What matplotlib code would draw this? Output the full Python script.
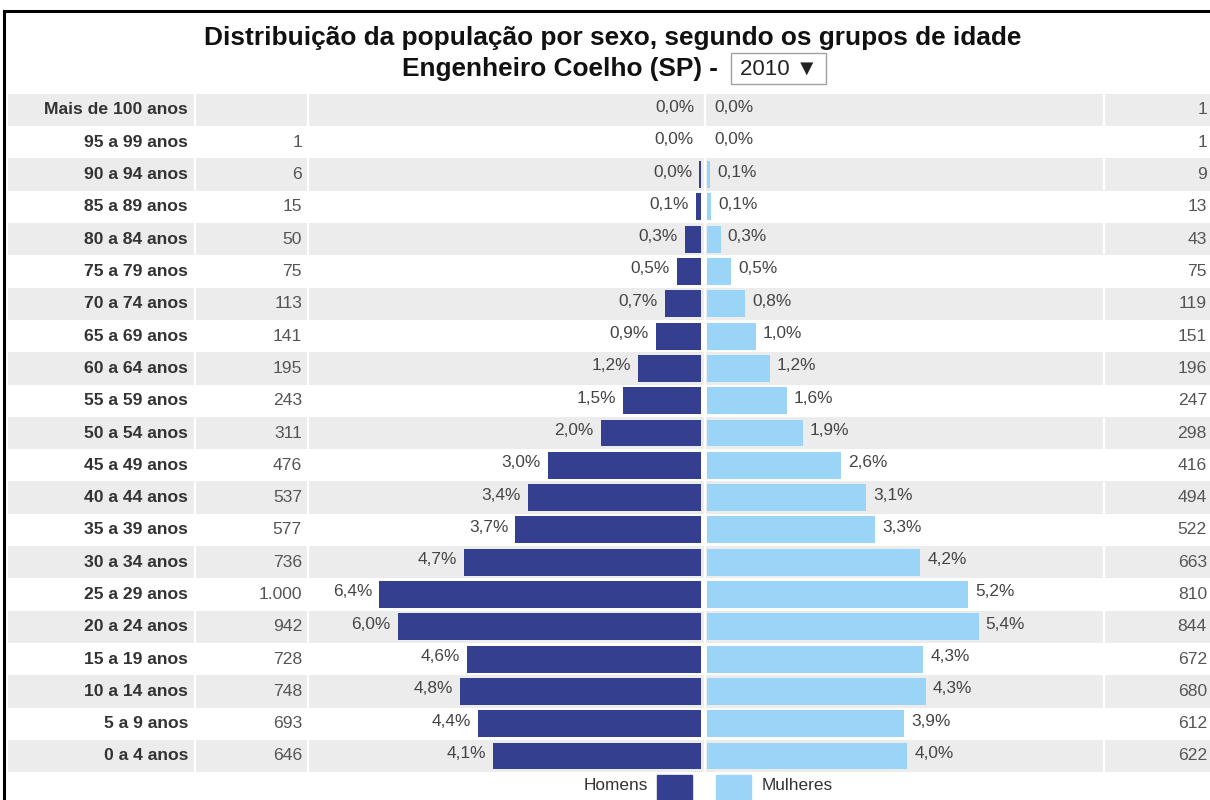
import matplotlib
matplotlib.use("Agg")
import matplotlib.pyplot as plt
from matplotlib.patches import Rectangle
from matplotlib.lines import Line2D

plt.rcParams['font.family'] = ['Liberation Sans', 'DejaVu Sans']

# faixas etarias, de cima para baixo
grupos = ["Mais de 100 anos", "95 a 99 anos", "90 a 94 anos", "85 a 89 anos",
          "80 a 84 anos", "75 a 79 anos", "70 a 74 anos", "65 a 69 anos",
          "60 a 64 anos", "55 a 59 anos", "50 a 54 anos", "45 a 49 anos",
          "40 a 44 anos", "35 a 39 anos", "30 a 34 anos", "25 a 29 anos",
          "20 a 24 anos", "15 a 19 anos", "10 a 14 anos", "5 a 9 anos",
          "0 a 4 anos"]
homens = [0, 1, 6, 15, 50, 75, 113, 141, 195, 243, 311, 476, 537, 577,
          736, 1000, 942, 728, 748, 693, 646]
mulheres = [1, 1, 9, 13, 43, 75, 119, 151, 196, 247, 298, 416, 494, 522,
            663, 810, 844, 672, 680, 612, 622]
pct_homens = [0.0, 0.0, 0.0, 0.1, 0.3, 0.5, 0.7, 0.9, 1.2, 1.5, 2.0, 3.0,
              3.4, 3.7, 4.7, 6.4, 6.0, 4.6, 4.8, 4.4, 4.1]
pct_mulheres = [0.0, 0.0, 0.1, 0.1, 0.3, 0.5, 0.8, 1.0, 1.2, 1.6, 1.9, 2.6,
                3.1, 3.3, 4.2, 5.2, 5.4, 4.3, 4.3, 3.9, 4.0]

titulo = "Distribuição da população por sexo, segundo os grupos de idade"
local = "Engenheiro Coelho (SP) - "
ano = "2010 \u25BC"

cor_h = "#353f8f"
cor_m = "#9ad4f7"
cinza = "#ececec"

W, H = 1210, 800
fig = plt.figure(figsize=(W / 100, H / 100), dpi=100)

# row area: first row centre at y=110px, last at 756px
row0, rowN = 110, 756
step = (rowN - row0) / (len(grupos) - 1)
top = row0 - step / 2
bot = rowN + step / 2
ax = fig.add_axes([0, 1 - bot / H, 1, (bot - top) / H])

# scale: pixels per person, centre of pyramid at 704px
ppp = 0.322
centro = 704
ax.set_xlim(-centro / ppp, (W - centro) / ppp)
ax.set_ylim(len(grupos) - 0.5, -0.5)
ax.axis('off')

gap = 3 / ppp  # half gap between the two sides
ys = list(range(len(grupos)))

# alternating gray bands
for i in ys:
    if i % 2 == 0:
        ax.axhspan(i - 0.5, i + 0.5, xmin=8 / W, xmax=1, color=cinza, lw=0, zorder=0)
# white column separators
sep = [195 / W, 308 / W, 705 / W, 1104 / W]
ax.vlines(sep, -0.5, len(grupos) - 0.5, colors="white", lw=1.6,
          transform=ax.get_yaxis_transform(), zorder=1)

ax.barh(ys, [-h for h in homens], left=-gap, height=0.83, color=cor_h, zorder=2)
ax.barh(ys, mulheres, left=gap, height=0.83, color=cor_m, zorder=2)

off = 7 / ppp
for i in ys:
    ax.text(188 / W, i, grupos[i], transform=ax.get_yaxis_transform(),
            ha='right', va='center', fontsize=12.6, fontweight='bold', color="#333333")
    if homens[i] > 0:
        ax.text(302 / W, i, f"{homens[i]:,}".replace(",", "."),
                transform=ax.get_yaxis_transform(), ha='right', va='center',
                fontsize=12.6, color="#555555")
    ax.text(1207 / W, i, f"{mulheres[i]:,}".replace(",", "."),
            transform=ax.get_yaxis_transform(), ha='right', va='center',
            fontsize=12.6, color="#555555")
    ax.text(-gap - homens[i] - off, i - 0.08, f"{pct_homens[i]:.1f}%".replace(".", ","),
            ha='right', va='center', fontsize=12.4, color="#444444", zorder=3)
    ax.text(gap + mulheres[i] + off, i - 0.08, f"{pct_mulheres[i]:.1f}%".replace(".", ","),
            ha='left', va='center', fontsize=12.4, color="#444444", zorder=3)

# title
fig.text(613 / W, 1 - 38 / H, titulo, ha='center', va='center',
         fontsize=18.9, fontweight='bold', color="#111111")
fig.text(725 / W, 1 - 69 / H, local, ha='right', va='center',
         fontsize=18.9, fontweight='bold', color="#111111")
fig.text(740 / W, 1 - 69 / H, ano, ha='left', va='center',
         fontsize=16, color="#222222")
fig.add_artist(Rectangle((731 / W, 1 - 84 / H), 95 / W, 31 / H, fill=False,
                         ec="#a0a0a0", lw=1, transform=fig.transFigure))

# legend
fig.add_artist(Rectangle((657 / W, 1 - 802 / H), 35 / W, 27 / H, color=cor_h,
                         transform=fig.transFigure))
fig.add_artist(Rectangle((716 / W, 1 - 802 / H), 35 / W, 27 / H, color=cor_m,
                         transform=fig.transFigure))
fig.text(648 / W, 1 - 786 / H, "Homens", ha='right', va='center',
         fontsize=12.4, color="#333333")
fig.text(762 / W, 1 - 786 / H, "Mulheres", ha='left', va='center',
         fontsize=12.4, color="#333333")

# frame lines
fig.add_artist(Line2D([4 / W, 1], [1 - 11 / H, 1 - 11 / H], color="black", lw=2.2,
                      transform=fig.transFigure))
fig.add_artist(Line2D([4 / W, 4 / W], [0, 1 - 11 / H], color="black", lw=2.2,
                      transform=fig.transFigure))

fig.savefig("out.png", dpi=100)
